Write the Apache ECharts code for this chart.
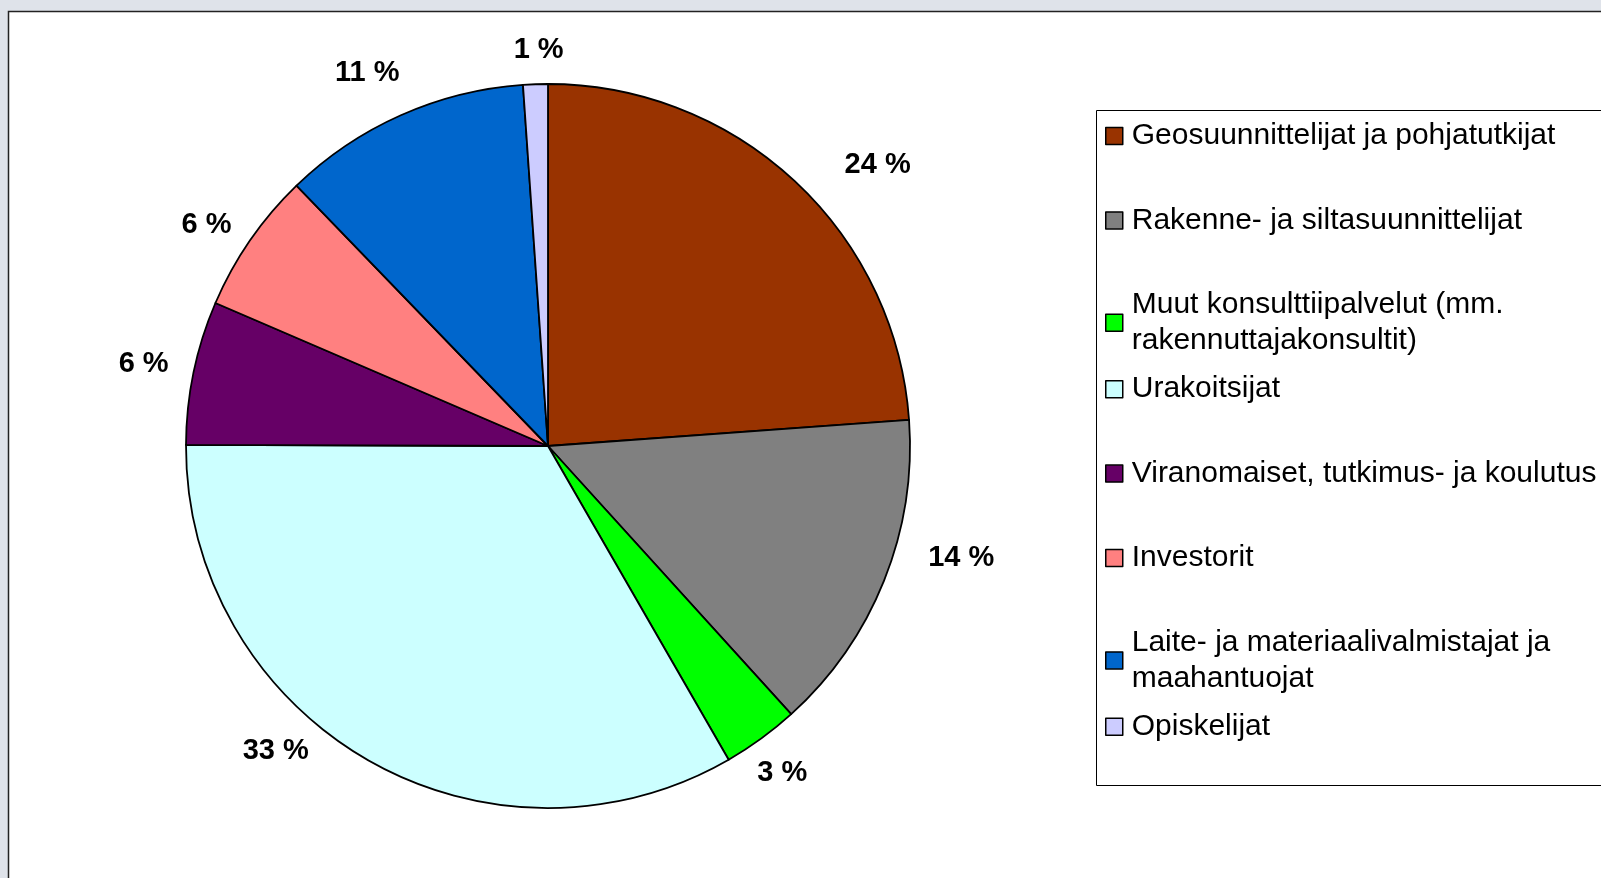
<!DOCTYPE html>
<html>
<head>
<meta charset="utf-8">
<script src="https://cdn.jsdelivr.net/npm/echarts@6/dist/echarts.min.js"></script>
<style>
  html, body { margin: 0; padding: 0; background: #dfe3ea; }
  #main { width: 1601px; height: 878px; }
</style>
</head>
<body>
<div id="main"></div>
<script>
// ryhmät ja osuudet (%)
var categories = [
  'Geosuunnittelijat ja pohjatutkijat',
  'Rakenne- ja siltasuunnittelijat',
  'Muut konsulttiipalvelut (mm. rakennuttajakonsultit)',
  'Urakoitsijat',
  'Viranomaiset, tutkimus- ja koulutus',
  'Investorit',
  'Laite- ja materiaalivalmistajat ja maahantuojat',
  'Opiskelijat'
];
var shares = [23.8, 14.4, 3.4, 33.3, 6.4, 6.3, 11.1, 1.1];
var colors = ['#993300', '#808080', '#00ff00', '#ccffff', '#660066', '#ff8080', '#0066cc', '#ccccff'];
// legend rows as in the original (line breaks)
var legendText = {
  'Muut konsulttiipalvelut (mm. rakennuttajakonsultit)': 'Muut konsulttiipalvelut (mm.\nrakennuttajakonsultit)',
  'Laite- ja materiaalivalmistajat ja maahantuojat': 'Laite- ja materiaalivalmistajat ja\nmaahantuojat'
};
// Excel-tyyliset tekstien siirrot (px)
var labelNudge = [[47, 23], [28, -42], [-10, -8], [-64, -54], [2, 2], [0, 15], [-12, 6], [5, 19]];

var chart = echarts.init(document.getElementById('main'));

var pieData = categories.map(function (name, i) {
  return { name: name, value: shares[i], itemStyle: { color: colors[i] } };
});

var lineH = 36;
var legends = categories.map(function (name, i) {
  var twoLines = !!legendText[name];
  var mid = 134 + 84.4 * i;
  return {
    data: [name],
    left: 1100,
    top: mid - (twoLines ? 39 : 21),
    icon: 'rect',
    itemWidth: 17,
    itemHeight: 17,
    selectedMode: false,
    itemStyle: { borderColor: '#000', borderWidth: 1.5 },
    formatter: function (n) { return legendText[n] || n; },
    textStyle: {
      fontFamily: 'Liberation Sans', fontSize: 30, color: '#000',
      lineHeight: lineH, backgroundColor: 'transparent',
      padding: twoLines ? [lineH, 0, 0, 4] : [0, 0, 0, 4]
    }
  };
});

var option = {
  backgroundColor: '#dfe3ea',
  animation: false,
  graphic: [
    { type: 'rect', shape: { x: 8.5, y: 11.5, width: 1700, height: 1000 },
      style: { fill: '#fff', stroke: '#222', lineWidth: 1.5 }, z: -10 },
    { type: 'rect', shape: { x: 1096.5, y: 110.5, width: 700, height: 675 },
      style: { fill: '#fff', stroke: '#000', lineWidth: 1 }, z: -9 }
  ],
  legend: legends,
  series: [
    {
      type: 'pie',
      center: [548, 446],
      radius: 362,
      startAngle: 90,
      silent: true,
      label: { show: false },
      labelLine: { show: false },
      itemStyle: { borderColor: '#000', borderWidth: 1.8 },
      data: pieData
    },
    {
      // prosenttitekstit kehän ulkopuolella
      type: 'pie',
      center: [548, 446],
      radius: [362, 462],
      startAngle: 90,
      silent: true,
      itemStyle: { color: 'transparent', borderWidth: 0 },
      label: {
        show: true, position: 'inside',
        fontFamily: 'Liberation Sans', fontWeight: 'bold', fontSize: 29, color: '#000',
        formatter: function (p) { return Math.round(p.value) + ' %'; }
      },
      labelLine: { show: false },
      data: categories.map(function (name, i) {
        return { name: name, value: shares[i], label: { offset: labelNudge[i] } };
      })
    }
  ]
};
chart.setOption(option);
</script>
</body>
</html>
